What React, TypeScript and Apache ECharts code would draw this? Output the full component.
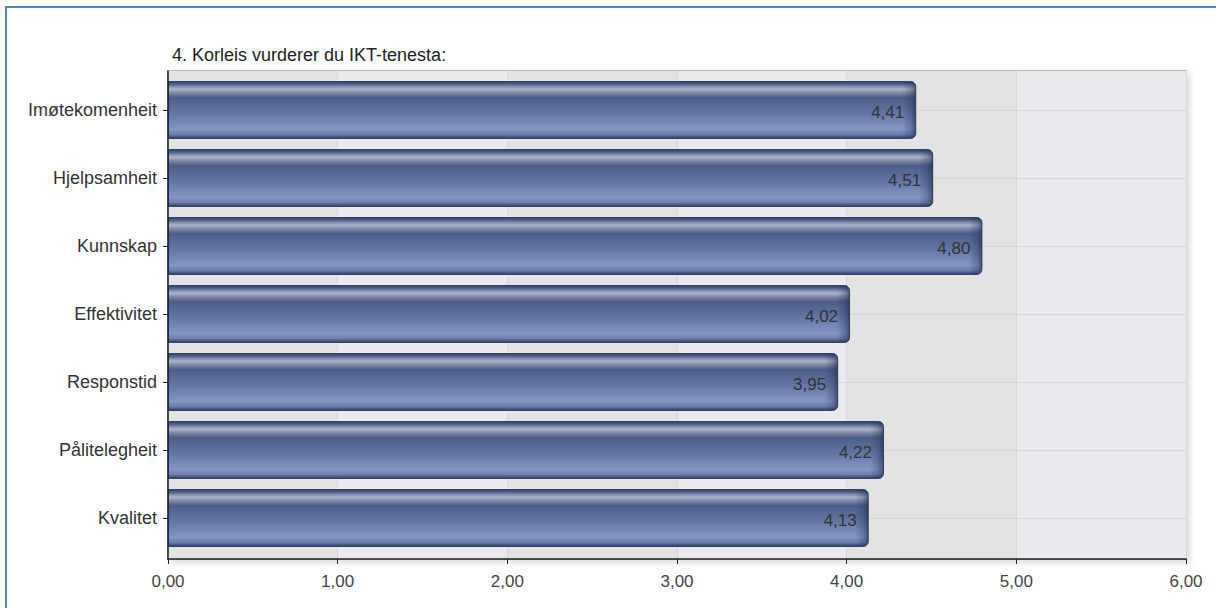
import React, { useEffect, useRef } from "react";
import * as echarts from "echarts";

const chartTitle = "4. Korleis vurderer du IKT-tenesta:";
const categories = [
  "Imøtekomenheit",
  "Hjelpsamheit",
  "Kunnskap",
  "Effektivitet",
  "Responstid",
  "Pålitelegheit",
  "Kvalitet",
];
const values = [4.41, 4.51, 4.8, 4.02, 3.95, 4.22, 4.13];
const axisMin = 0;
const axisMax = 6;
const axisStep = 1;

const fmt = (v: number) => v.toFixed(2).replace(".", ",");
const FONT = "'Liberation Sans', Arial, Helvetica, sans-serif";
const BAR_H = 58;

export default function App() {
  const ref = useRef<HTMLDivElement>(null);
  useEffect(() => {
    if (!ref.current) return;
    const chart = echarts.init(ref.current, undefined, { renderer: "svg" });
    const barGradient = new echarts.graphic.LinearGradient(0, 0, 0, 1, [
      { offset: 0, color: "#2f3d62" },
      { offset: 0.04, color: "#4a5a84" },
      { offset: 0.1, color: "#8f9ab5" },
      { offset: 0.14, color: "#aab2c6" },
      { offset: 0.19, color: "#8590ae" },
      { offset: 0.28, color: "#4d5e8a" },
      { offset: 0.55, color: "#6374a2" },
      { offset: 0.84, color: "#8496c6" },
      { offset: 0.93, color: "#6b7dad" },
      { offset: 1, color: "#2e3c60" },
    ]);
    chart.setOption({
      animation: false,
      backgroundColor: "#ffffff",
      textStyle: { fontFamily: FONT },
      title: {
        text: chartTitle,
        left: 167,
        top: 41,
        textStyle: { fontSize: 18, fontWeight: "normal", color: "#222", fontFamily: FONT },
      },
      graphic: [
        {
          type: "polyline",
          silent: true,
          shape: { points: [[1230, 7], [6, 7], [6, 640]] },
          style: { fill: "none", stroke: "#4f81bd", lineWidth: 2 },
        },
      ],
      grid: [
        {
          left: 168,
          top: 71,
          width: 1018,
          height: 488,
          show: true,
          backgroundColor: "#e7e9ec",
          borderColor: "#a3a3a3",
          borderWidth: 1.5,
          shadowColor: "rgba(0,0,0,0.15)",
          shadowBlur: 6,
          shadowOffsetX: 3,
          shadowOffsetY: 3,
        },
        { left: 168, top: 110, width: 1018, height: 408 },
      ],
      xAxis: [
        {
          gridIndex: 0,
          type: "value",
          min: axisMin,
          max: axisMax,
          interval: axisStep,
          z: 0,
          axisLine: { show: true, lineStyle: { color: "#222", width: 1.5 } },
          axisTick: { show: true, length: 5, lineStyle: { color: "#222" } },
          axisLabel: { formatter: fmt, fontSize: 17, color: "#444", margin: 14, fontFamily: FONT },
          splitLine: { show: true, lineStyle: { color: "#d6d6d6" } },
          splitArea: { show: true, areaStyle: { color: ["#e3e3e4", "#e8eaed"] } },
        },
        { gridIndex: 1, type: "value", min: axisMin, max: axisMax, show: false },
      ],
      yAxis: [
        {
          gridIndex: 0,
          type: "value",
          min: 0,
          max: 1,
          z: 5,
          axisLine: { show: true, lineStyle: { color: "#222", width: 1.5 } },
          axisTick: { show: false },
          axisLabel: { show: false },
          splitLine: { show: false },
        },
        {
          gridIndex: 1,
          type: "category",
          inverse: true,
          boundaryGap: false,
          data: categories,
          z: 1,
          axisLine: { show: false },
          axisTick: { show: true, length: 5, interval: 0, lineStyle: { color: "#222" } },
          axisLabel: { fontSize: 18, color: "#333", margin: 11, interval: 0, fontFamily: FONT },
          splitLine: { show: true, interval: 0, lineStyle: { color: "#d6d6d6" } },
        },
      ],
      series: [
        {
          type: "bar",
          xAxisIndex: 1,
          yAxisIndex: 1,
          data: values,
          barWidth: BAR_H,
          clip: false,
          z: 3,
          itemStyle: {
            color: barGradient,
            borderColor: "#34446b",
            borderWidth: 1,
            borderRadius: [0, 5, 5, 0],
          },
          label: {
            show: true,
            position: "insideRight",
            distance: 12,
            offset: [0, 2],
            formatter: (p: any) => fmt(p.value),
            fontSize: 17,
            color: "#333",
            fontFamily: FONT,
          },
        },
        {
          type: "custom",
          xAxisIndex: 1,
          yAxisIndex: 1,
          clip: false,
          z: 4,
          silent: true,
          data: values.map((v, i) => [v, i]),
          encode: { x: 0, y: 1 },
          renderItem: (params: any, api: any) => {
            const end = api.coord([api.value(0), api.value(1)]);
            const w = 14;
            return {
              type: "rect",
              shape: { x: end[0] - w, y: end[1] - BAR_H / 2 + 1, width: w - 0.5, height: BAR_H - 2, r: [0, 5, 5, 0] },
              style: {
                fill: new echarts.graphic.LinearGradient(0, 0, 1, 0, [
                  { offset: 0, color: "rgba(30,40,70,0)" },
                  { offset: 0.6, color: "rgba(30,40,70,0.25)" },
                  { offset: 1, color: "rgba(30,40,70,0.6)" },
                ]),
              },
            };
          },
        },
      ],
    });
    return () => chart.dispose();
  }, []);
  return (
    <div
      ref={ref}
      style={{ position: "absolute", left: 0, top: 0, width: 1216, height: 608, overflow: "hidden", background: "#fff" }}
    />
  );
}
